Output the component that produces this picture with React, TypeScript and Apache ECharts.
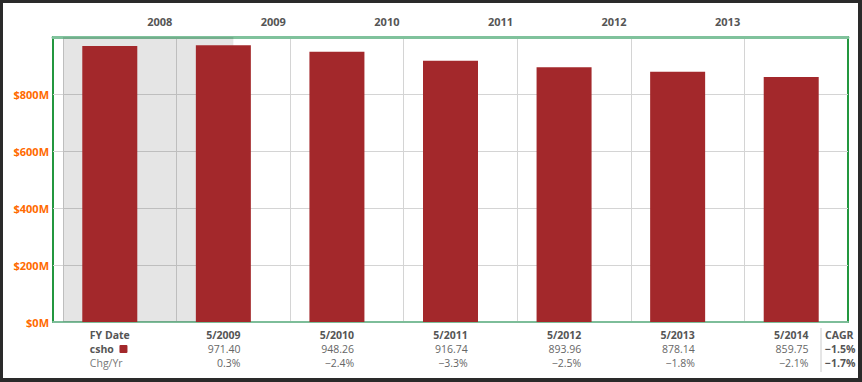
import React, { useEffect, useRef } from "react";
import * as echarts from "echarts";

const categories = ["5/2008", "5/2009", "5/2010", "5/2011", "5/2012", "5/2013", "5/2014"];
const csho = [968.5, 971.4, 948.26, 916.74, 893.96, 878.14, 859.75];
const cshoLabels = ["", "971.40", "948.26", "916.74", "893.96", "878.14", "859.75"];
const chgYr = ["", "0.3%", "\u22122.4%", "\u22123.3%", "\u22122.5%", "\u22121.8%", "\u22122.1%"];
const topYears = ["2008", "2009", "2010", "2011", "2012", "2013"];
const cagr = ["\u22121.5%", "\u22121.7%"];
const yTicks = [0, 200, 400, 600, 800];

const FONT = "'Open Sans', sans-serif";
const BAR = "#a3282b";

export default function App() {
  const ref = useRef<HTMLDivElement>(null);
  useEffect(() => {
    if (!ref.current) return;
    const chart = echarts.init(ref.current, null, { renderer: "svg" });
    const gridPos = categories.map((_, i) => i + 0.088);
    const yearPos = topYears.map((_, i) => i + 0.94);
    const base = { fontFamily: FONT, fontSize: 10.5, lineHeight: 14 };
    chart.setOption({
      animation: false,
      backgroundColor: "#ffffff",
      grid: { left: 50, top: 34, right: 10, bottom: 56, show: true, borderColor: "#23973f", borderWidth: 2 },
      xAxis: [
        {
          type: "category",
          data: categories,
          position: "bottom",
          axisLine: { lineStyle: { color: "#7dbd99", width: 2 } },
          axisTick: { alignWithLabel: true, length: 5, lineStyle: { color: "#b9cbdb" } },
          splitLine: { show: false },
          axisLabel: {
            margin: 6,
            interval: 0,
            formatter: (v: string, i: number) =>
              i === 0
                ? `{hl|FY Date}\n{nl|csho} {sq| }\n{cl|Chg/Yr}`
                : `{hr|${v}}\n{vr|${cshoLabels[i]}}\n{cr|${chgYr[i]}}`,
            rich: {
              hl: { ...base, fontWeight: "bold", color: "#555", align: "left" },
              nl: { ...base, fontWeight: "bold", color: "#555", align: "left" },
              sq: { width: 8, height: 8, backgroundColor: BAR, borderRadius: 1, align: "left" },
              cl: { ...base, color: "#777", align: "left" },
              hr: { ...base, fontWeight: "bold", color: "#555", align: "right" },
              vr: { ...base, color: "#666", align: "right" },
              cr: { ...base, color: "#666", align: "right" },
            },
          },
        },
        {
          type: "value",
          position: "top",
          min: 0,
          max: 7,
          axisLine: { show: true, onZero: false, lineStyle: { color: "#80c29c", width: 3 } },
          axisTick: { show: false, customValues: gridPos },
          splitLine: { show: true, lineStyle: { color: "#d4d4d4", width: 1 } },
          axisLabel: {
            customValues: yearPos,
            margin: 10,
            fontFamily: FONT,
            fontSize: 11,
            fontWeight: "bold",
            color: "#555",
            formatter: (v: number) => topYears[Math.round(v - 0.94)] ?? "",
          },
        },
      ],
      yAxis: {
        type: "value",
        min: 0,
        max: 1000,
        interval: 200,
        axisLine: { show: false },
        axisTick: { show: false },
        splitLine: { lineStyle: { color: "#d4d4d4", width: 1 } },
        axisLabel: {
          margin: 4,
          fontFamily: FONT,
          fontSize: 11,
          fontWeight: "bold",
          color: "#ff6a00",
          formatter: (v: number) => (yTicks.includes(v) ? `$${v}M` : ""),
        },
      },
      series: [
        {
          type: "line",
          xAxisIndex: 1,
          data: [],
          z: 1,
          markArea: {
            silent: true,
            itemStyle: { color: "rgba(0,0,0,0.1)" },
            data: [[{ xAxis: gridPos[0] }, { xAxis: gridPos[0] + 1.5 }]],
          },
        },
        {
          type: "bar",
          xAxisIndex: 0,
          data: csho,
          barWidth: 55,
          z: 3,
          itemStyle: { color: BAR },
        },
      ],
      graphic: [
        { type: "line", shape: { x1: 818, y1: 325, x2: 818, y2: 369 }, style: { stroke: "#cccccc", lineWidth: 1 } },
        { type: "text", x: 822, y: 332, style: { text: "CAGR", font: `bold 10.5px ${FONT}`, fill: "#555", textVerticalAlign: "middle" } },
        { type: "text", x: 822, y: 346, style: { text: cagr[0], font: `bold 10.5px ${FONT}`, fill: "#555", textVerticalAlign: "middle" } },
        { type: "text", x: 822, y: 360, style: { text: cagr[1], font: `bold 10.5px ${FONT}`, fill: "#555", textVerticalAlign: "middle" } },
      ],
    });
    return () => chart.dispose();
  }, []);
  return (
    <div style={{ position: "fixed", left: 0, top: 0, width: 862, height: 382, background: "#2a2a2a" }}>
      <div ref={ref} style={{ position: "absolute", left: 3, top: 3, width: 855, height: 375, background: "#fff" }} />
    </div>
  );
}
